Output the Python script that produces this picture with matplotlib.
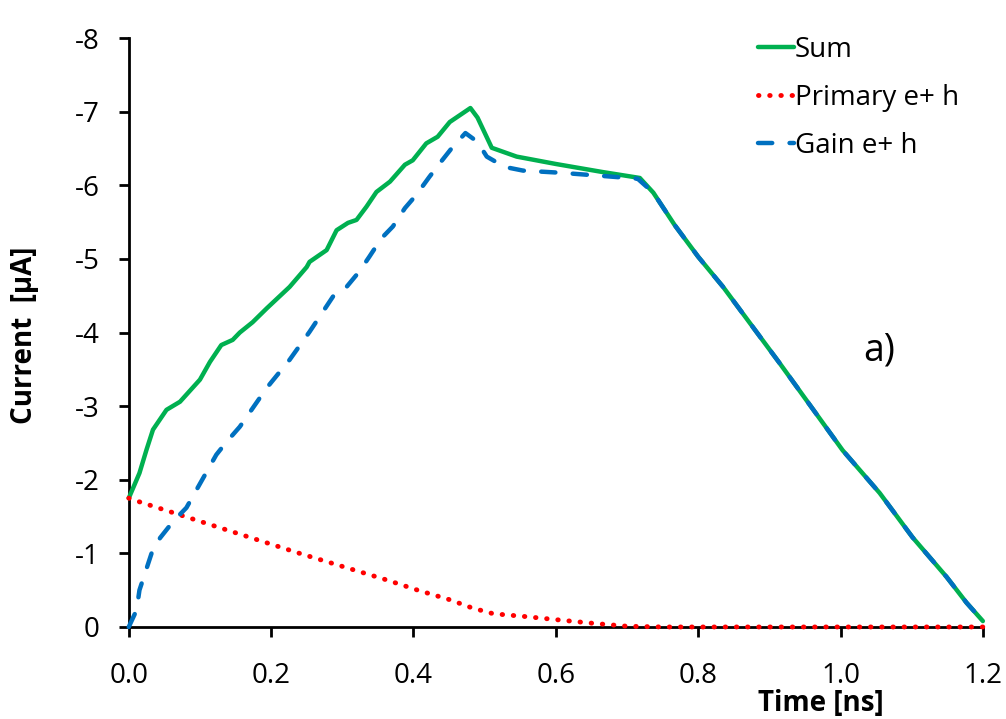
import matplotlib.pyplot as plt
import numpy as np

plt.rcParams['font.family'] = ['Open Sans', 'DejaVu Sans']
plt.rcParams['axes.unicode_minus'] = False

# Sum of primary and gain currents
t_sum = [0, 0.015, 0.025, 0.034, 0.053, 0.072, 0.1, 0.114, 0.130, 0.146, 0.156, 0.174,
         0.194, 0.226, 0.25, 0.254, 0.278, 0.292, 0.308, 0.32, 0.334, 0.348, 0.367, 0.388,
         0.399, 0.418, 0.434, 0.451, 0.48, 0.49, 0.51, 0.545, 0.60, 0.666, 0.718, 0.737,
         0.767, 0.80, 0.835, 0.914, 1.003, 1.055, 1.101, 1.149, 1.177, 1.2]
i_sum = [-1.75, -2.09, -2.41, -2.68, -2.95, -3.06, -3.36, -3.60, -3.83, -3.90, -4.0, -4.14,
         -4.33, -4.62, -4.89, -4.96, -5.12, -5.39, -5.49, -5.53, -5.71, -5.91, -6.05, -6.28,
         -6.34, -6.57, -6.66, -6.86, -7.05, -6.92, -6.51, -6.39, -6.29, -6.18, -6.10, -5.90,
         -5.46, -5.03, -4.62, -3.59, -2.40, -1.82, -1.22, -0.68, -0.33, -0.08]

# Primary e+h
t_prim = [0, 0.015, 0.076, 0.240, 0.301, 0.362, 0.406, 0.451, 0.482, 0.512, 0.559,
          0.605, 0.652, 0.7, 0.75, 1.2]
i_prim = [-1.75, -1.70, -1.51, -1.0, -0.82, -0.64, -0.50, -0.37, -0.26, -0.18, -0.14,
          -0.095, -0.05, -0.01, 0, 0]

# Gain e+h
t_gain = [0, 0.011, 0.015, 0.032, 0.044, 0.062, 0.081, 0.095, 0.123, 0.137, 0.156, 0.194,
          0.226, 0.254, 0.287, 0.306, 0.324, 0.338, 0.355, 0.371, 0.388, 0.404, 0.422, 0.437,
          0.455, 0.473, 0.49, 0.503, 0.528, 0.554, 0.608, 0.662, 0.715, 0.737, 0.767, 0.80,
          0.835, 0.914, 1.003, 1.055, 1.101, 1.149, 1.177, 1.2]
i_gain = [0, -0.23, -0.5, -1.0, -1.21, -1.43, -1.62, -1.86, -2.34, -2.51, -2.72, -3.25,
          -3.63, -4.01, -4.49, -4.62, -4.83, -5.03, -5.28, -5.44, -5.69, -5.87, -6.11, -6.30,
          -6.52, -6.71, -6.59, -6.39, -6.25, -6.20, -6.17, -6.13, -6.09, -5.90, -5.46, -5.03,
          -4.62, -3.59, -2.40, -1.82, -1.22, -0.68, -0.33, -0.08]

x_ticks = [0.0, 0.2, 0.4, 0.6, 0.8, 1.0, 1.2]
y_ticks = [0, -1, -2, -3, -4, -5, -6, -7, -8]

fig = plt.figure(figsize=(10.06, 7.19), dpi=100)
ax = fig.add_axes([0.128, 0.128, 0.849, 0.819])

l_sum, = ax.plot(t_sum, i_sum, color='#00B050', lw=3.2, solid_capstyle='round',
                 label='Sum', zorder=3, clip_on=False)
l_prim, = ax.plot(t_prim, i_prim, color='#FF0000', lw=3.5, linestyle=(0, (0.1, 2.2)),
                  dash_capstyle='round', label='Primary e+ h', zorder=4, clip_on=False)
l_gain, = ax.plot(t_gain, i_gain, color='#0070C0', lw=3.2, linestyle=(0, (3.2, 3.9)),
                  dash_capstyle='round', label='Gain e+ h', zorder=5, clip_on=False)

ax.set_xlim(0, 1.2)
ax.set_ylim(0, -8)
ax.set_xticks(x_ticks)
ax.set_xticklabels([f'{v:.1f}' for v in x_ticks])
ax.set_yticks(y_ticks)
ax.set_yticklabels([str(v) for v in y_ticks])

for s in ['top', 'right']:
    ax.spines[s].set_visible(False)
for s in ['left', 'bottom']:
    ax.spines[s].set_linewidth(2)
ax.tick_params(axis='both', direction='out', length=7, width=2, labelsize=20)
ax.tick_params(axis='x', pad=18)
ax.tick_params(axis='y', pad=14)

ax.set_xlabel('Time [ns]', fontsize=20, fontweight='bold')
ax.xaxis.set_label_coords(0.81, -0.105)
ax.set_ylabel('Current  [µA]', fontsize=20, fontweight='bold')
ax.yaxis.set_label_coords(-0.105, 0.496)

ax.text(1.055, -3.76, 'a)', fontsize=27, ha='center', va='center')

ax.legend(handles=[l_sum, l_prim, l_gain], loc='upper left', bbox_to_anchor=(0.72, 1.027),
          frameon=False, fontsize=20, handlelength=1.3, handletextpad=0.05,
          labelspacing=0.72, borderpad=0)

fig.savefig('out.png', dpi=100)
